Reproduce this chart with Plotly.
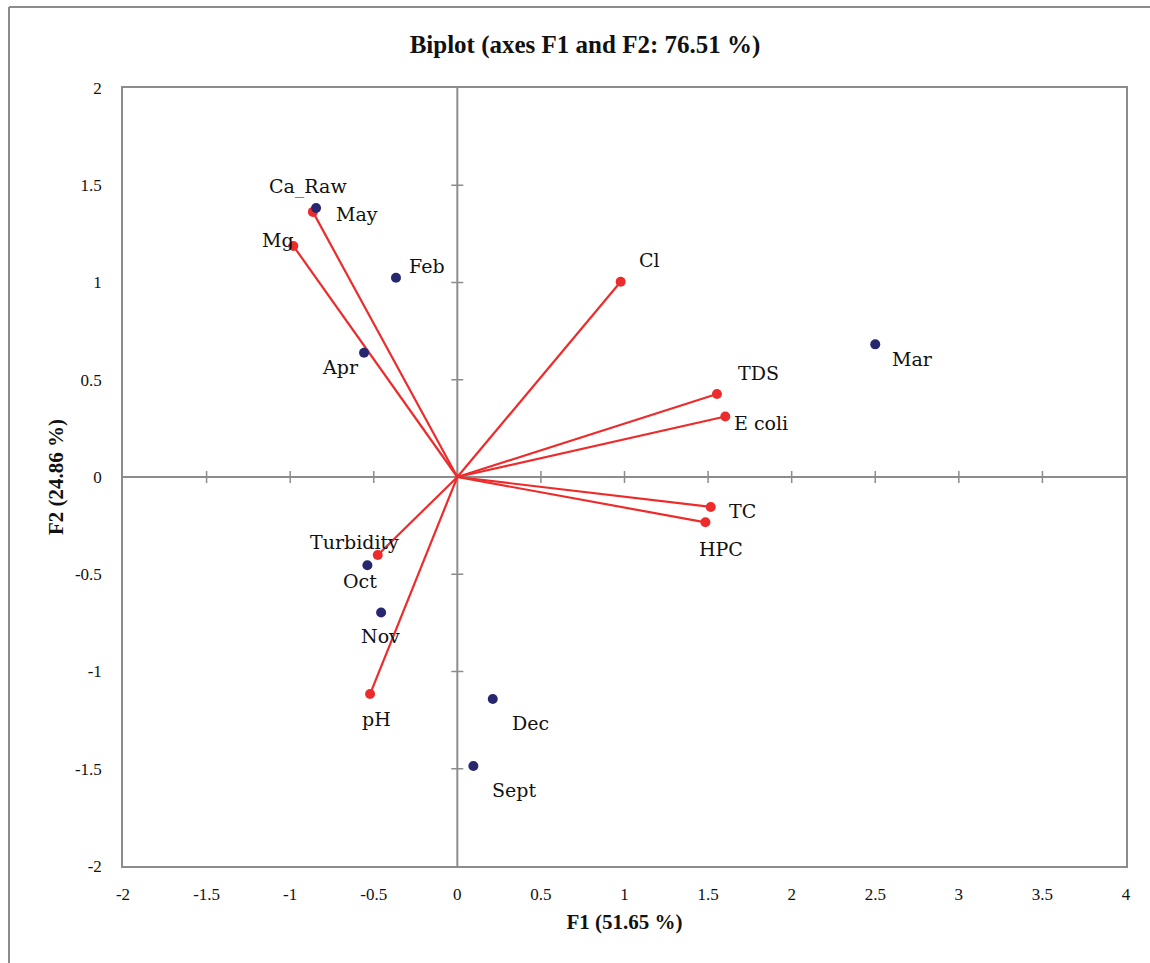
import plotly.graph_objects as go

# Observations (months)
obs_names = ["May", "Feb", "Apr", "Mar", "Oct", "Nov", "Dec", "Sept"]
obs_f1 = [-0.845, -0.367, -0.558, 2.500, -0.538, -0.456, 0.212, 0.096]
obs_f2 = [1.383, 1.024, 0.639, 0.682, -0.454, -0.697, -1.141, -1.486]

# Variables (loadings)
var_names = ["Ca_Raw", "Mg", "Cl", "TDS", "E coli", "TC", "HPC", "Turbidity", "pH"]
var_f1 = [-0.864, -0.981, 0.977, 1.553, 1.603, 1.516, 1.484, -0.476, -0.522]
var_f2 = [1.363, 1.188, 1.004, 0.427, 0.311, -0.154, -0.233, -0.401, -1.116]

x_ticks = [-2, -1.5, -1, -0.5, 0, 0.5, 1, 1.5, 2, 2.5, 3, 3.5, 4]
y_ticks = [-2, -1.5, -1, -0.5, 0, 0.5, 1, 1.5, 2]

# label offsets in pixels (style)
obs_off = {"May": (41, -6), "Feb": (31, 12), "Apr": (-24, -14), "Mar": (37, -15),
           "Oct": (-7, -16), "Nov": (-1, -23), "Dec": (38, -24), "Sept": (41, -24)}
var_off = {"Ca_Raw": (-5, 25), "Mg": (-15, 6), "Cl": (29, 22), "TDS": (42, 21),
           "E coli": (36, -6), "TC": (32, -4), "HPC": (16, -27),
           "Turbidity": (-23, 13), "pH": (6, -25)}

RED = "#EE2B2B"
BLUE = "#27276F"
GRAY = "#8C8C8C"
LBL_FONT = dict(family="DejaVu Serif", size=19, color="#111111")
TICK_FONT = dict(family="Liberation Serif", size=17, color="#111111")

fig = go.Figure()

# vectors
for n, vx, vy in zip(var_names, var_f1, var_f2):
    fig.add_trace(go.Scatter(x=[0, vx], y=[0, vy], mode="lines",
                             line=dict(color=RED, width=2.2),
                             showlegend=False, hoverinfo="skip"))

# zero axes
fig.add_shape(type="line", x0=x_ticks[0], x1=x_ticks[-1], y0=0, y1=0,
              line=dict(color=GRAY, width=2), layer="below")
fig.add_shape(type="line", x0=0, x1=0, y0=y_ticks[0], y1=y_ticks[-1],
              line=dict(color=GRAY, width=2), layer="below")
for t in x_ticks[1:-1]:
    fig.add_shape(type="line", xref="x", yref="paper", x0=t, x1=t,
                  y0=0.5 - 6 / 778, y1=0.5 + 6 / 778,
                  line=dict(color=GRAY, width=1.5), layer="below")
for t in y_ticks[1:-1]:
    fig.add_shape(type="line", xref="paper", yref="y", y0=t, y1=t,
                  x0=(457.3 - 123 - 6) / 1003, x1=(457.3 - 123 + 6) / 1003,
                  line=dict(color=GRAY, width=1.5), layer="below")

# markers
fig.add_trace(go.Scatter(x=var_f1, y=var_f2, mode="markers",
                         marker=dict(color=RED, size=10),
                         showlegend=False))
fig.add_trace(go.Scatter(x=obs_f1, y=obs_f2, mode="markers",
                         marker=dict(color=BLUE, size=10),
                         showlegend=False))

for n, vx, vy in zip(obs_names, obs_f1, obs_f2):
    dx, dy = obs_off[n]
    fig.add_annotation(x=vx, y=vy, text=n, showarrow=False, xshift=dx, yshift=dy,
                       font=LBL_FONT)
for n, vx, vy in zip(var_names, var_f1, var_f2):
    dx, dy = var_off[n]
    fig.add_annotation(x=vx, y=vy, text=n, showarrow=False, xshift=dx, yshift=dy,
                       font=LBL_FONT)

# outer frame
fig.add_shape(type="line", xref="paper", yref="paper", x0=-114 / 1003, x1=1.03,
              y0=859 / 778, y1=859 / 778, line=dict(color=GRAY, width=2))
fig.add_shape(type="line", xref="paper", yref="paper", x0=-114 / 1003, x1=-114 / 1003,
              y0=859 / 778, y1=-0.13, line=dict(color=GRAY, width=2))

fig.update_layout(
    width=1150, height=963,
    margin=dict(l=123, r=24, t=88, b=97),
    paper_bgcolor="white", plot_bgcolor="white",
    title=dict(text="<b>Biplot (axes F1 and F2: 76.51 %)</b>",
               x=585 / 1150, xanchor="center", y=1 - 44 / 963, yanchor="middle",
               font=dict(family="Liberation Serif", size=25, color="#111111")),
    xaxis=dict(range=[x_ticks[0], x_ticks[-1]], tickvals=x_ticks,
               ticktext=[f"{t:g}" for t in x_ticks],
               showgrid=False, zeroline=False, showline=True, mirror=True,
               linecolor=GRAY, linewidth=1.5, ticks="outside", ticklen=12,
               tickcolor="rgba(0,0,0,0)",
               tickfont=TICK_FONT,
               title=dict(text="<b>F1 (51.65 %)</b>", standoff=11,
                          font=dict(family="Liberation Serif", size=21, color="#111111"))),
    yaxis=dict(range=[y_ticks[0], y_ticks[-1]], tickvals=y_ticks,
               ticktext=[f"{t:g}" for t in y_ticks],
               showgrid=False, zeroline=False, showline=True, mirror=True,
               linecolor=GRAY, linewidth=1.5, ticks="outside", ticklen=16,
               tickcolor="rgba(0,0,0,0)",
               tickfont=TICK_FONT,
               title=dict(text="<b>F2 (24.86 %)</b>", standoff=6,
                          font=dict(family="Liberation Serif", size=21, color="#111111"))),
)

fig.write_html("out.html")
